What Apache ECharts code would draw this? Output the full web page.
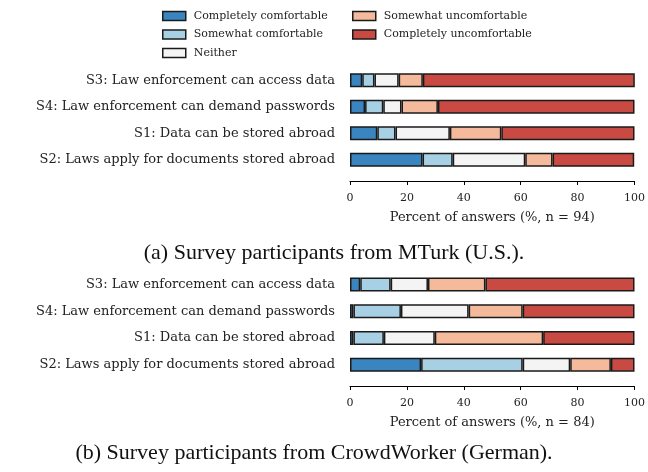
<!DOCTYPE html>
<html>
<head>
<meta charset="utf-8">
<script src="https://cdn.jsdelivr.net/npm/echarts@6/dist/echarts.min.js"></script>
<style>
  html, body { margin: 0; padding: 0; background: #fff; }
  #chart { width: 648px; height: 472px; }
</style>
</head>
<body>
<div id="chart"></div>
<script>
// 类别（自上而下）
var statements = [
  'S3: Law enforcement can access data',
  'S4: Law enforcement can demand passwords',
  'S1: Data can be stored abroad',
  'S2: Laws apply for documents stored abroad'
];
var answerNames = ['Completely comfortable', 'Somewhat comfortable', 'Neither',
                   'Somewhat uncomfortable', 'Completely uncomfortable'];
var answerColors = ['#3a85c0', '#a8d0e4', '#f4f4f4', '#f5b99b', '#c94a43'];
var ticks = [0, 20, 40, 60, 80, 100];

// (a) MTurk, n = 94, 百分比
var mturkCC = [4.3, 5.3, 9.6, 25.5];
var mturkSC = [4.3, 6.4, 6.4, 10.6];
var mturkN  = [8.5, 6.4, 19.1, 25.5];
var mturkSU = [8.5, 12.8, 18.1, 9.6];
var mturkCU = [74.5, 69.1, 46.8, 28.7];

// (b) CrowdWorker, n = 84, 百分比
var crowdCC = [3.6, 1.2, 1.2, 25.0];
var crowdSC = [10.7, 16.7, 10.7, 35.7];
var crowdN  = [13.1, 23.8, 17.9, 16.7];
var crowdSU = [20.2, 19.0, 38.1, 14.3];
var crowdCU = [52.4, 39.3, 32.1, 8.3];

var mturk = [mturkCC, mturkSC, mturkN, mturkSU, mturkCU];
var crowd = [crowdCC, crowdSC, crowdN, crowdSU, crowdCU];

var FONT = 'DejaVu Serif';

function makeXAxis(idx, title){
  return {
    gridIndex: idx,
    type: 'value',
    min: ticks[0], max: ticks[ticks.length - 1], interval: ticks[1] - ticks[0],
    offset: 8,
    axisLine: { show: true, lineStyle: { color: '#000', width: 1 } },
    axisTick: { show: true, length: 4, lineStyle: { color: '#000' } },
    axisLabel: { color: '#222', fontFamily: FONT, fontSize: 11, margin: 12 },
    splitLine: { show: false },
    name: title,
    nameLocation: 'middle',
    nameGap: 30,
    nameTextStyle: { color: '#222', fontFamily: FONT, fontSize: 13 }
  };
}

function makeYAxis(idx){
  return {
    gridIndex: idx,
    type: 'category',
    data: statements,
    inverse: true,
    axisLine: { show: false },
    axisTick: { show: false },
    axisLabel: { color: '#222', fontFamily: FONT, fontSize: 13, margin: 15 }
  };
}

var series = [];
[mturk, crowd].forEach(function(group, g){
  group.forEach(function(vals, i){
    series.push({
      name: answerNames[i],
      type: 'bar',
      stack: 'g' + g,
      xAxisIndex: g,
      yAxisIndex: g,
      barWidth: 14,
      data: vals,
      itemStyle: { color: answerColors[i], borderColor: '#1a1a1a', borderWidth: 1.5 },
      emphasis: { disabled: true }
    });
  });
});

var legendBase = {
  orient: 'vertical',
  itemWidth: 23,
  itemHeight: 9,
  itemGap: 7.5,
  icon: 'rect',
  textStyle: { color: '#222', fontFamily: FONT, fontSize: 11, padding: [0, 0, 0, 3] },
  itemStyle: { borderColor: '#1a1a1a', borderWidth: 1.5 }
};

var chart = echarts.init(document.getElementById('chart'), null, { renderer: 'canvas' });
chart.setOption({
  animation: false,
  backgroundColor: '#fff',
  color: answerColors,
  legend: [
    Object.assign({}, legendBase, { left: 157, top: 5.5, data: answerNames.slice(0, 3) }),
    Object.assign({}, legendBase, { left: 347, top: 5.5, data: answerNames.slice(3) })
  ],
  grid: [
    { left: 350, right: 11, top: 67, height: 106, containLabel: false },
    { left: 350, right: 11, top: 271, height: 107, containLabel: false }
  ],
  xAxis: [makeXAxis(0, 'Percent of answers (%, n = 94)'), makeXAxis(1, 'Percent of answers (%, n = 84)')],
  yAxis: [makeYAxis(0), makeYAxis(1)],
  series: series,
  graphic: [
    { type: 'text', x: 334, y: 253,
      style: { text: '(a) Survey participants from MTurk (U.S.).', fill: '#111',
               font: '22px "Liberation Serif"', align: 'center', verticalAlign: 'middle' } },
    { type: 'text', x: 314, y: 453,
      style: { text: '(b) Survey participants from CrowdWorker (German).', fill: '#111',
               font: '22px "Liberation Serif"', align: 'center', verticalAlign: 'middle' } }
  ]
});
</script>
</body>
</html>
